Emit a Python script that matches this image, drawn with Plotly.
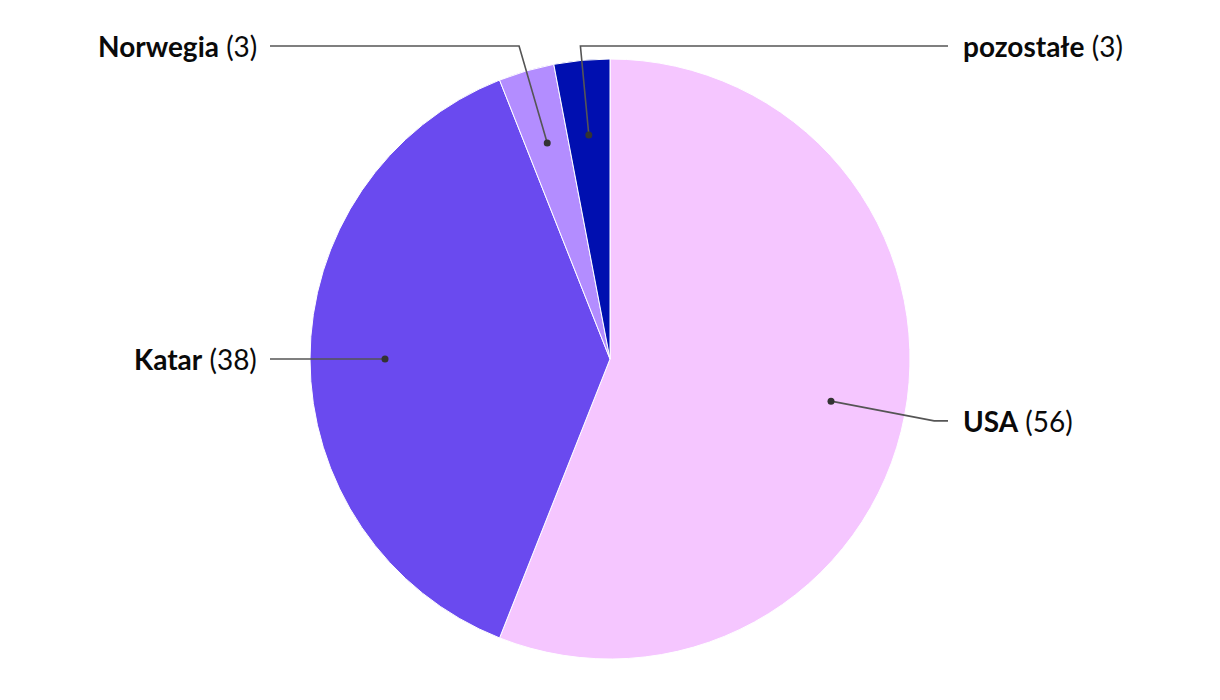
import math
import plotly.graph_objects as go

categories = ["USA", "Katar", "Norwegia", "pozostałe"]
values = [56, 38, 3, 3]
colors = ["#f5c6ff", "#6a4aef", "#b38dff", "#000fb0"]

# label placement (layout config, not data): which side each label sits on
label_side = ["right", "left", "left", "right"]

OFF = 8  # page body margin
W, H = 1220 - 2 * OFF, 700 - 2 * OFF
CX, CY, R = 610, 359, 300  # pie centre/radius in page pixels
TOP_Y = 46

def px(x):
    return (x - OFF) / W

def py(y):
    return (H - (y - OFF)) / H

fig = go.Figure(go.Pie(
    labels=categories, values=values, sort=False, direction="clockwise",
    rotation=0, textinfo="none", hoverinfo="label+value",
    marker=dict(colors=colors, line=dict(color="white", width=1)),
    domain=dict(x=[px(CX - R), px(CX + R)], y=[py(CY + R), py(CY - R)]),
    showlegend=False,
))

total = sum(values)
shapes, annotations = [], []
cum = 0
for name, v, side in zip(categories, values, label_side):
    mid = (cum + v / 2) / total * 2 * math.pi
    cum += v
    s, c = math.sin(mid), math.cos(mid)
    dx, dy = CX + 0.75 * R * s, CY - 0.75 * R * c
    ex, ey = CX + 1.1 * R * s, CY - 1.1 * R * c
    if ey < TOP_Y:
        ey = TOP_Y
        ex = CX + (CY - TOP_Y) / c * s
    right = side == "right"
    hx = 948 if right else 270
    lx = 961 if right else 259
    path = f"M {px(dx)} {py(dy)} L {px(ex)} {py(ey)} L {px(hx)} {py(ey)}"
    shapes.append(dict(type="path", path=path, xref="paper", yref="paper",
                       line=dict(color="#555555", width=1.6)))
    shapes.append(dict(type="circle", xref="paper", yref="paper",
                       x0=px(dx - 3.5), x1=px(dx + 3.5), y0=py(dy + 3.5), y1=py(dy - 3.5),
                       fillcolor="#333333", line=dict(width=0)))
    annotations.append(dict(x=px(lx), y=py(ey), xref="paper", yref="paper",
                            text=f"<b>{name}</b> ({v})", showarrow=False,
                            xanchor="left" if right else "right", yanchor="middle",
                            font=dict(family="Lato", size=28, color="#0a0a0a")))

fig.update_layout(
    width=W, height=H, margin=dict(l=0, r=0, t=0, b=0),
    paper_bgcolor="white", plot_bgcolor="white",
    shapes=shapes, annotations=annotations,
    font=dict(family="Lato"),
)
fig.write_html("out.html")
